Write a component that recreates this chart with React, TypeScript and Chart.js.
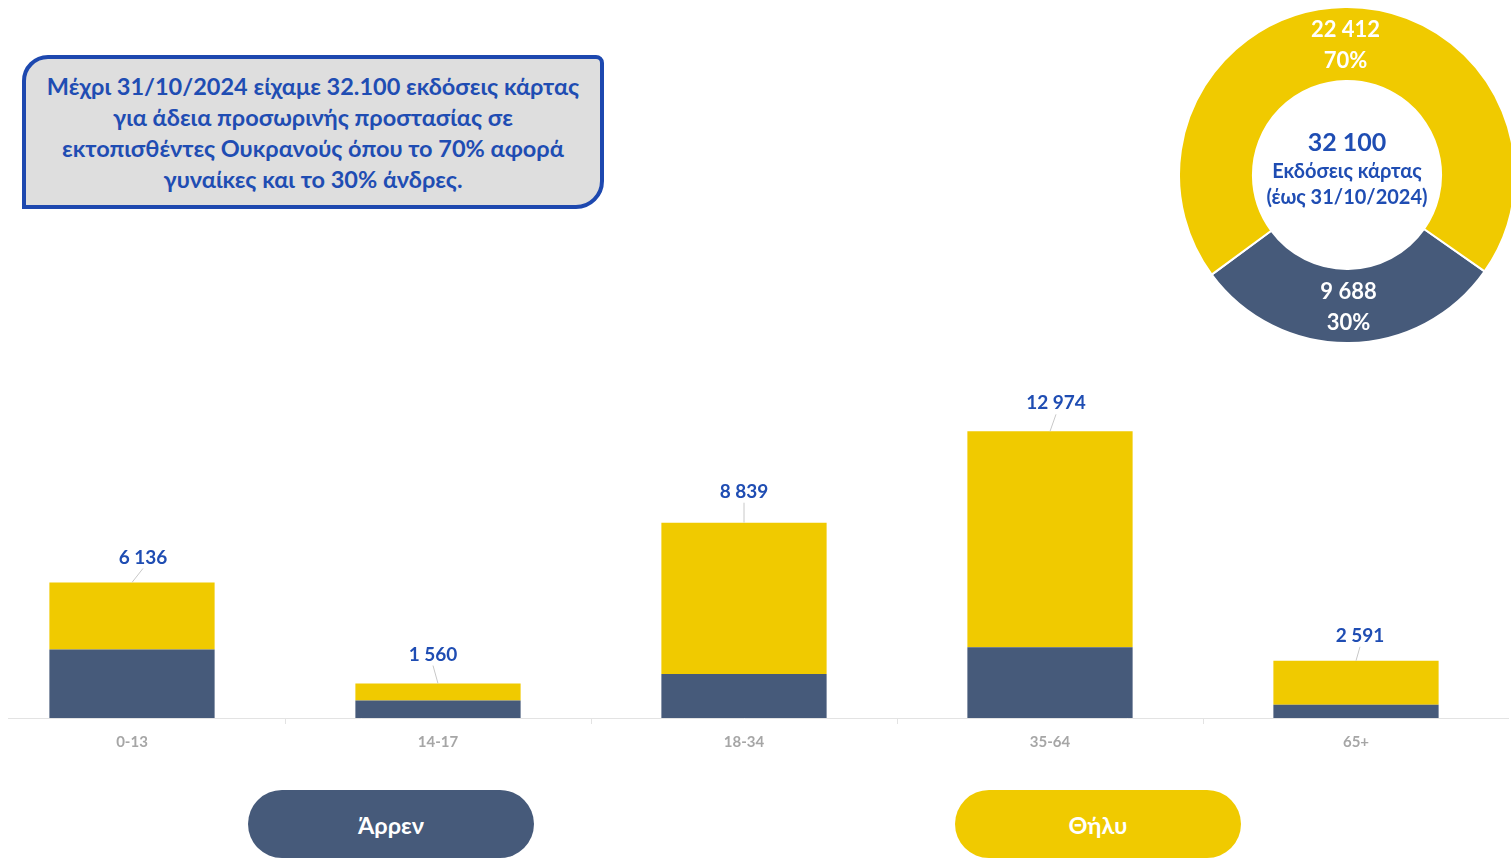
import React, { useEffect, useRef } from 'react';
import { Chart, registerables } from 'chart.js';

Chart.register(...registerables);

// ---- data ----
const CATEGORIES = ['0-13', '14-17', '18-34', '35-64', '65+'];
const MALE = [3105, 788, 1993, 3199, 603];
const FEMALE = [3031, 772, 6846, 9775, 1988];
const SERIES_NAMES = ['Άρρεν', 'Θήλυ'];
const Y_MAX = 16000;
const INFO_LINES = [
  'Μέχρι 31/10/2024 είχαμε 32.100 εκδόσεις κάρτας',
  'για άδεια προσωρινής προστασίας σε',
  'εκτοπισθέντες Ουκρανούς όπου το 70% αφορά',
  'γυναίκες και το 30% άνδρες.',
];
const DONUT_CAPTION = ['Εκδόσεις κάρτας', '(έως 31/10/2024)'];

// ---- style ----
const NAVY = '#465A7A';
const YELLOW = '#F0CA00';
const BLUE_TEXT = '#1F4DB3';
const FONT = 'Lato, "Noto Sans", sans-serif';
const LABEL_NUDGE_X = [11, -5, 0, 6, 4];
const LABEL_LIFT = [25, 29, 31, 28, 25];

const fmt = (n: number) => String(n).replace(/\B(?=(\d{3})+(?!\d))/g, ' ');
const TOTALS = CATEGORIES.map((_, i) => MALE[i] + FEMALE[i]);
const MALE_SUM = MALE.reduce((a, b) => a + b, 0);
const FEMALE_SUM = FEMALE.reduce((a, b) => a + b, 0);

const totalsPlugin = {
  id: 'totals',
  afterDatasetsDraw(chart: any) {
    const ctx = chart.ctx;
    const meta = chart.getDatasetMeta(1);
    ctx.save();
    meta.data.forEach((bar: any, i: number) => {
      const top = bar.y;
      const cx = bar.x;
      const lx = cx + LABEL_NUDGE_X[i];
      const ly = top - LABEL_LIFT[i];
      ctx.strokeStyle = '#c8c8c8';
      ctx.lineWidth = 1;
      ctx.beginPath();
      ctx.moveTo(lx, ly + 11);
      ctx.lineTo(cx, top);
      ctx.stroke();
      ctx.fillStyle = BLUE_TEXT;
      ctx.font = `bold 19px ${FONT}`;
      ctx.textAlign = 'center';
      ctx.textBaseline = 'middle';
      ctx.fillText(fmt(TOTALS[i]), lx, ly);
    });
    ctx.restore();
  },
};

const donutPlugin = {
  id: 'donutText',
  afterDatasetsDraw(chart: any) {
    const ctx = chart.ctx;
    const meta = chart.getDatasetMeta(0);
    const values = chart.data.datasets[0].data as number[];
    const sum = values.reduce((a, b) => a + b, 0);
    ctx.save();
    ctx.textAlign = 'center';
    ctx.textBaseline = 'middle';
    meta.data.forEach((arc: any, i: number) => {
      const p = arc.getCenterPoint();
      ctx.fillStyle = '#ffffff';
      ctx.font = `bold 22px ${FONT}`;
      ctx.fillText(fmt(values[i]), p.x, p.y - 14.5);
      ctx.fillText(Math.round((values[i] / sum) * 100) + '%', p.x, p.y + 16.5);
    });
    const a = meta.data[0];
    const cx = a.x;
    const cy = a.y;
    ctx.fillStyle = BLUE_TEXT;
    ctx.font = `bold 25px ${FONT}`;
    ctx.fillText(fmt(sum), cx, cy - 32);
    ctx.font = `bold 20px ${FONT}`;
    ctx.fillText(DONUT_CAPTION[0], cx, cy - 3);
    ctx.fillText(DONUT_CAPTION[1], cx, cy + 23);
    ctx.restore();
  },
};

function BarChart() {
  const ref = useRef<HTMLCanvasElement>(null);
  useEffect(() => {
    const chart = new Chart(ref.current!, {
      type: 'bar',
      data: {
        labels: CATEGORIES,
        datasets: [
          { label: SERIES_NAMES[0], data: MALE, backgroundColor: NAVY, barPercentage: 0.54, categoryPercentage: 1 },
          { label: SERIES_NAMES[1], data: FEMALE, backgroundColor: YELLOW, barPercentage: 0.54, categoryPercentage: 1 },
        ],
      },
      options: {
        responsive: false,
        animation: false,
        layout: { padding: { top: 24.5, left: 0, right: 0, bottom: 0 } },
        plugins: { legend: { display: false }, tooltip: { enabled: false } },
        scales: {
          x: {
            stacked: true,
            grid: { display: true, drawOnChartArea: false, drawTicks: true, tickLength: 6, color: '#e3e3e3', offset: true },
            border: { display: true, color: '#e3e3e3', width: 1 },
            ticks: { color: '#a6a6a6', font: { family: FONT, size: 15, weight: 'bold' }, padding: 9 },
          },
          y: { stacked: true, display: false, min: 0, max: Y_MAX },
        },
      },
      plugins: [totalsPlugin],
    });
    return () => chart.destroy();
  }, []);
  return <canvas ref={ref} width={1530} height={420} style={{ position: 'absolute', left: -29, top: 0 }} />;
}

function DonutChart() {
  const ref = useRef<HTMLCanvasElement>(null);
  useEffect(() => {
    const chart = new Chart(ref.current!, {
      type: 'doughnut',
      data: {
        labels: SERIES_NAMES,
        datasets: [
          {
            data: [MALE_SUM, FEMALE_SUM],
            backgroundColor: [NAVY, YELLOW],
            borderColor: '#ffffff',
            borderWidth: 2,
          },
        ],
      },
      options: {
        responsive: false,
        animation: false,
        rotation: 125,
        cutout: '56%',
        plugins: { legend: { display: false }, tooltip: { enabled: false } },
      },
      plugins: [donutPlugin],
    });
    return () => chart.destroy();
  }, []);
  return <canvas ref={ref} width={338} height={338} style={{ position: 'absolute', left: 1178, top: 6 }} />;
}

const pill = (bg: string, left: number): React.CSSProperties => ({
  position: 'absolute',
  left,
  top: 790,
  width: 286,
  height: 68,
  background: bg,
  borderRadius: '34px',
  color: '#fff',
  fontFamily: FONT,
  fontWeight: 700,
  fontSize: 23.5,
  display: 'flex',
  alignItems: 'center',
  justifyContent: 'center',
  paddingTop: 1,
  boxSizing: 'border-box',
});

export default function App() {
  return (
    <div style={{ position: 'fixed', left: 0, top: 0, width: 1511, height: 858, overflow: 'hidden', background: '#fff' }}>
      <div
        style={{
          position: 'absolute',
          left: 22,
          top: 55,
          width: 582,
          height: 154,
          boxSizing: 'border-box',
          border: '4px solid #1D48AF',
          borderRadius: '26px 8px 28px 0',
          background: '#DEDEDE',
          color: BLUE_TEXT,
          fontFamily: FONT,
          fontWeight: 700,
          fontSize: 23.5,
          lineHeight: '31px',
          textAlign: 'center',
          paddingTop: 12,
          whiteSpace: 'nowrap',
        }}
      >
        {INFO_LINES.map((l, i) => (
          <div key={i}>{l}</div>
        ))}
      </div>
      <DonutChart />
      <div style={{ position: 'absolute', left: 8, top: 340, width: 1503, height: 420, overflow: 'hidden' }}>
        <BarChart />
      </div>
      <div style={pill(NAVY, 248)}>{SERIES_NAMES[0]}</div>
      <div style={pill(YELLOW, 955)}>{SERIES_NAMES[1]}</div>
    </div>
  );
}
